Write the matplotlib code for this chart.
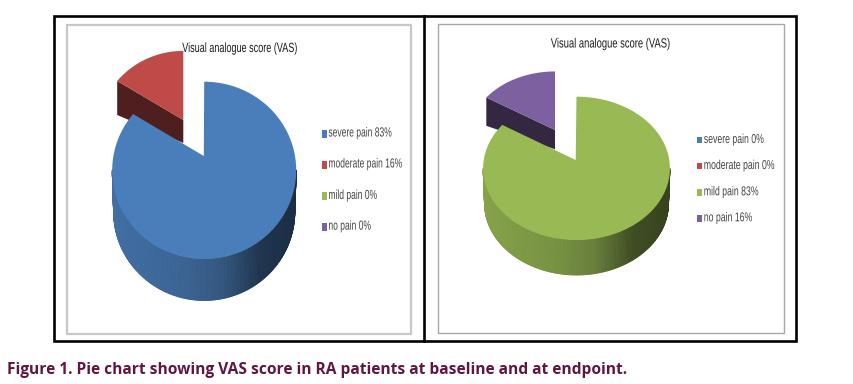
import numpy as np
import matplotlib
matplotlib.use("Agg")
import matplotlib.pyplot as plt
from matplotlib.collections import PolyCollection
from matplotlib.patches import Polygon, Rectangle
from matplotlib.patheffects import AbstractPathEffect
from matplotlib.transforms import Affine2D

categories = ["severe pain", "moderate pain", "mild pain", "no pain"]
baseline = [83, 16, 0, 0]
endpoint = [0, 0, 83, 16]
colors = ["#4a7ebb", "#be4b48", "#98b954", "#7d60a0"]
title = "Visual analogue score (VAS)"
caption = "Figure 1. Pie chart showing VAS score in RA patients at baseline and at endpoint."

# layout of the two panels, in pixels of the picture
LEFT = dict(panel=(67.3, 25, 410.7, 334), border="#c8c8c8", border_lw=1.6,
            apex=(203.8, 156), cx=204.2, up=74.3, down=103, half=92,
            depth=41.5, s_apex=(183.3, 120), s_scale=0.93, s_d0=23, s_d1=34,
            title_xy=(240, 49), title_sx=0.68,
            leg_x=321.6, leg_y=[133.5, 164.5, 196, 226.7], leg_h=8, leg_size=9.5, leg_sx=0.645)
RIGHT = dict(panel=(438.3, 24.3, 784.3, 333), border="#a8a8a8", border_lw=1.0,
             apex=(575.7, 160), cx=576.5, up=63.3, down=80, half=93.4,
             depth=35, s_apex=(555, 130), s_scale=0.925, s_d0=19.3, s_d1=28.3,
             title_xy=(610.7, 44.5), title_sx=0.705,
             leg_x=697, leg_y=[140, 166, 192.3, 218.3], leg_h=6.8, leg_size=9.3, leg_sx=0.675)


class Squeeze(AbstractPathEffect):
    # the reference uses a narrow face, no such font here so squeeze the glyphs
    def __init__(self, sx, x_px):
        super().__init__()
        self.sx = sx
        self.x_px = x_px

    def draw_path(self, renderer, gc, tpath, affine, rgbFace=None):
        squeeze = Affine2D().translate(-self.x_px, 0).scale(self.sx, 1).translate(self.x_px, 0)
        renderer.draw_path(gc, tpath, affine + squeeze, rgbFace)


def shade(color, m):
    rgb = np.array(matplotlib.colors.to_rgb(color))
    return tuple(rgb * m)


def project(theta, radius, g):
    # circle seen in perspective, theta clockwise from the top
    k = (g["down"] - g["up"]) / (g["down"] + g["up"])
    a = g["up"] * (1 + k)
    b = g["half"] * np.sqrt(1 - k * k)
    u = radius * np.sin(theta)
    v = radius * np.cos(theta)
    w = 1 + k * v
    return b * u / w, -a * v / w


def draw_pie(ax, values, g):
    x0 = g["cx"]
    y0 = g["apex"][1]
    total = sum(values)
    shown = [i for i, val in enumerate(values) if val > 0]
    main, other = shown[0], shown[1]
    split = 2 * np.pi * values[main] / total

    # exploded slice with its dark wall
    th = np.linspace(split, 2 * np.pi, 60)
    dx, dy = project(th, 1.0, g)
    ax0, ay0 = g["s_apex"]
    sx = ax0 + dx * g["s_scale"]
    sy = ay0 + dy * g["s_scale"]
    wall = [(sx[0], sy[0]), (ax0, ay0), (ax0, ay0 + g["s_d0"]), (sx[0], sy[0] + g["s_d1"])]
    ax.add_patch(Polygon(wall, closed=True, fc=shade(colors[other], 0.41), ec="none", zorder=3))
    pts = [(ax0, ay0)] + list(zip(sx, sy))
    ax.add_patch(Polygon(pts, closed=True, fc=colors[other], ec="none", zorder=4))

    # side wall of the big slice
    th = np.linspace(0, split, 400)
    dx, dy = project(th, 1.0, g)
    tx = x0 + dx
    ty = y0 + dy
    i0, i1 = np.argmax(tx), np.argmin(tx)
    frac = (tx - tx.min()) / (tx.max() - tx.min())
    ramp = np.interp(frac, [0, 0.4, 0.6, 0.8, 1], [0.88, 0.78, 0.68, 0.42, 0.36])
    quads, face = [], []
    for i in range(i0, i1):
        bx0 = x0 + (tx[i] - x0) * 0.985
        bx1 = x0 + (tx[i + 1] - x0) * 0.985
        quads.append([(tx[i], ty[i]), (tx[i + 1], ty[i + 1]),
                      (bx1, ty[i + 1] + g["depth"]), (bx0, ty[i] + g["depth"])])
        face.append(shade(colors[main], ramp[i]))
    ax.add_collection(PolyCollection(quads, facecolors=face, edgecolors=face, linewidths=0.6, zorder=5))

    pts = [g["apex"]] + list(zip(tx, ty))
    ax.add_patch(Polygon(pts, closed=True, fc=colors[main], ec="none", zorder=6))


def draw_panel(ax, values, g):
    x1, y1, x2, y2 = g["panel"]
    ax.add_patch(Rectangle((x1, y1), x2 - x1, y2 - y1, fc="white", ec=g["border"], lw=g["border_lw"], zorder=1))
    draw_pie(ax, values, g)
    tx, ty = g["title_xy"]
    ax.text(tx, ty, title, family="Liberation Sans", fontsize=9.6, color="#1a1a1a", ha="center", va="center",
            zorder=8, path_effects=[Squeeze(g["title_sx"], tx)])
    for i, cat in enumerate(categories):
        y = g["leg_y"][i]
        ax.add_patch(Rectangle((g["leg_x"], y - g["leg_h"] / 2), 5, g["leg_h"], fc=colors[i], ec="none", zorder=8))
        lx = g["leg_x"] + 6.8
        ax.text(lx, y, f"{cat} {values[i]}%", family="Liberation Sans", fontsize=g["leg_size"],
                color="#444444", ha="left", va="center", zorder=8,
                path_effects=[Squeeze(g["leg_sx"], lx)])


fig = plt.figure(figsize=(8.54, 3.84), dpi=100)
ax = fig.add_axes([0, 0, 1, 1])
ax.set_xlim(0, 854)
ax.set_ylim(384, 0)
ax.axis("off")

draw_panel(ax, baseline, LEFT)
draw_panel(ax, endpoint, RIGHT)

# black frame round both panels
ax.add_patch(Rectangle((54, 15.5), 742.5, 325.5, fc="none", ec="black", lw=1.9, zorder=9))
ax.plot([423.8, 423.8], [15.5, 341], color="black", lw=1.9, zorder=9)

ax.text(7, 370.5, caption, family="Open Sans", fontweight="bold", fontsize=11.2,
        color="#5f1641", ha="left", va="center")

fig.savefig("out.png", dpi=100)
